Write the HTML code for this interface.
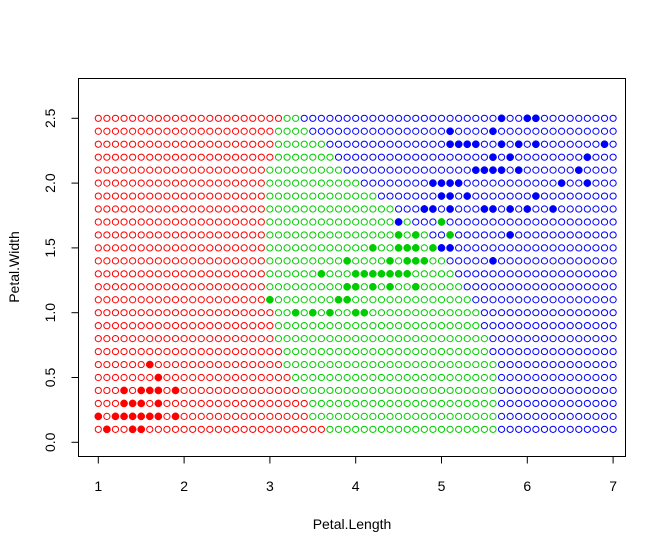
<!DOCTYPE html>
<html><head><meta charset="utf-8"><style>
html,body{margin:0;padding:0;background:#fff;}
svg{display:block;font-family:"Liberation Sans",Arial,sans-serif;}
</style></head><body>
<svg id="chart" width="666" height="554" viewBox="0 0 666 554" xmlns="http://www.w3.org/2000/svg">
<rect x="0" y="0" width="666" height="554" fill="#fff"/>
<g id="grid"></g>
<g id="pts"></g>
<g id="axes"></g>
</svg>
<script>
// grid rows (Petal.Width) and class boundaries per row
const rowWidths = [0.1,0.2,0.3,0.4,0.5,0.6,0.7,0.8,0.9,1.0,1.1,1.2,1.3,1.4,1.5,1.6,1.7,1.8,1.9,2.0,2.1,2.2,2.3,2.4,2.5];
const redMax   = [3.6,3.4,3.4,3.3,3.2,3.1,3.1,3.0,3.0,3.0,2.9,2.9,2.9,2.9,2.9,2.9,2.9,2.9,2.9,2.9,2.9,3.0,3.0,3.0,3.1];
const blueMin  = [5.7,5.7,5.7,5.7,5.7,5.7,5.6,5.6,5.5,5.5,5.4,5.3,5.2,5.1,5.0,4.9,4.7,4.5,4.3,4.1,3.9,3.8,3.7,3.5,3.4];
// observed iris points
const setosaL = [1.6,1.7,1.3,1.5,1.6,1.7,1.9,1.3,1.4,1.5,1.7,1.0,1.2,1.3,1.4,1.5,1.6,1.7,1.9,1.1,1.4,1.5];
const setosaW = [0.6,0.5,0.4,0.4,0.4,0.4,0.4,0.3,0.3,0.3,0.3,0.2,0.2,0.2,0.2,0.2,0.2,0.2,0.2,0.1,0.1,0.1];
const versiL = [3.3,3.5,3.7,4.0,4.1,3.0,3.8,3.9,3.9,4.0,4.2,4.4,4.7,3.6,4.0,4.1,4.2,4.3,4.4,4.5,4.6,3.9,4.4,4.6,4.7,4.8,4.2,4.5,4.6,4.7,4.9,4.5,4.7,5.1,5.0,4.8];
const versiW = [1.0,1.0,1.0,1.0,1.0,1.1,1.1,1.1,1.2,1.2,1.2,1.2,1.2,1.3,1.3,1.3,1.3,1.3,1.3,1.3,1.3,1.4,1.4,1.4,1.4,1.4,1.5,1.5,1.5,1.5,1.5,1.6,1.6,1.6,1.7,1.8];
const virgL = [5.6,5.0,5.1,5.8,4.5,4.8,4.9,5.1,5.5,5.6,5.8,6.0,6.3,5.0,5.1,5.3,6.1,4.9,5.0,5.1,5.2,6.4,6.7,5.4,5.5,5.6,5.7,5.9,6.6,5.6,5.8,6.7,5.1,5.2,5.3,5.4,5.7,5.9,6.1,6.9,5.1,5.6,5.7,6.0,6.1];
const virgW = [1.4,1.5,1.5,1.6,1.7,1.8,1.8,1.8,1.8,1.8,1.8,1.8,1.8,1.9,1.9,1.9,1.9,2.0,2.0,2.0,2.0,2.0,2.0,2.1,2.1,2.1,2.1,2.1,2.1,2.2,2.2,2.2,2.3,2.3,2.3,2.3,2.3,2.3,2.3,2.3,2.4,2.4,2.5,2.5,2.5];
const xTicks = [1,2,3,4,5,6,7];
const yTicks = [0.0,0.5,1.0,1.5,2.0,2.5];
const yTickLabels = ["0.0","0.5","1.0","1.5","2.0","2.5"];

const NS="http://www.w3.org/2000/svg";
const X = v => 98.3 + (v-1)*85.8;
const Y = v => 442.3 - v*129.6;
const COL = {red:"#FF0000",green:"#00CD00",blue:"#0000FF"};
function mk(tag, attrs, parent){const e=document.createElementNS(NS,tag);for(const k in attrs)e.setAttribute(k,attrs[k]);parent.appendChild(e);return e;}

const grid=document.getElementById('grid');
rowWidths.forEach((w,ri)=>{
  for(let i=0;i<=60;i++){
    const l=Math.round((1+i*0.1)*10)/10;
    let c = l<=redMax[ri]+1e-9 ? COL.red : (l>=blueMin[ri]-1e-9 ? COL.blue : COL.green);
    const e=mk('circle',{cx:X(l),cy:Y(w),r:3.1,fill:'none',stroke:c,'stroke-width':1},grid);
    
    
  }
});
const pts=document.getElementById('pts');
function drawPts(L,W,c,name){
  L.forEach((l,i)=>{
    const e=mk('circle',{cx:X(l),cy:Y(W[i]),r:3.6,fill:c,stroke:c,'stroke-width':0.5},pts);
    
    
  });
}
drawPts(setosaL,setosaW,COL.red,'setosa-point');
drawPts(versiL,versiW,COL.green,'versicolor-point');
drawPts(virgL,virgW,COL.blue,'virginica-point');

const axes=document.getElementById('axes');
const box=mk('rect',{x:78.5,y:78.5,width:547,height:378,fill:'none',stroke:'#000','stroke-width':1},axes);


const xl=mk('line',{x1:X(xTicks[0]),x2:X(xTicks[xTicks.length-1]),y1:456.5,y2:456.5,stroke:'#000'},axes);


xTicks.forEach(t=>{
  const tk=mk('line',{x1:X(t),x2:X(t),y1:456.5,y2:463.5,stroke:'#000'},axes);
  
  
  const tx=mk('text',{x:X(t),y:491,'text-anchor':'middle','font-size':14,fill:'#000'},axes);
  tx.textContent=String(t);
  
  
});
yTicks.forEach((t,i)=>{
  const tk=mk('line',{x1:71.5,x2:78.5,y1:Y(t),y2:Y(t),stroke:'#000'},axes);
  
  
  const tx=mk('text',{x:0,y:0,'text-anchor':'middle','font-size':14,fill:'#000',transform:`translate(55,${Y(t)}) rotate(-90)`},axes);
  tx.textContent=yTickLabels[i];
  
  
});
const xt=mk('text',{x:352,y:529,'text-anchor':'middle','font-size':14,fill:'#000'},axes);
xt.textContent='Petal.Length';


const yt=mk('text',{x:0,y:0,'text-anchor':'middle','font-size':14,fill:'#000',transform:'translate(19,267) rotate(-90)'},axes);
yt.textContent='Petal.Width';


</script>
</body></html>
